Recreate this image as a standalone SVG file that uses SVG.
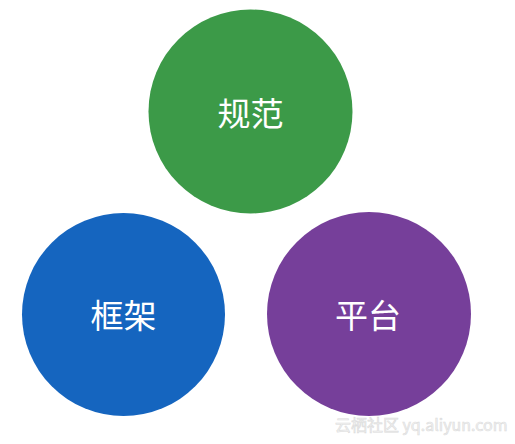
<svg xmlns="http://www.w3.org/2000/svg" width="515" height="444" viewBox="0 0 515 444">
<style>
.label{font-family:"Noto Sans CJK SC","Noto Sans",sans-serif;font-size:33px;fill:#ffffff;text-anchor:middle;dominant-baseline:central}
.wm{font-family:"Noto Sans CJK SC","Liberation Sans",sans-serif;font-size:16px;fill:#f2f2f2;stroke:#dcdcdc;stroke-width:0.6}
</style>
<rect width="515" height="444" fill="#ffffff"/>
<g id="guifan">
<circle cx="250.5" cy="111.5" r="102" fill="#3c9a48"/>
<text class="label" x="250.5" y="112">规范</text>
</g>
<g id="kuangjia">
<circle cx="123.5" cy="314.5" r="101.5" fill="#1565bf"/>
<text class="label" x="123.5" y="314">框架</text>
</g>
<g id="pingtai">
<circle cx="369" cy="314" r="102" fill="#763f9a"/>
<text class="label" x="368" y="314">平台</text>
</g>
<g id="connectors"/>
<text class="wm" x="335" y="431">云栖社区 yq.aliyun.com</text>
</svg>
